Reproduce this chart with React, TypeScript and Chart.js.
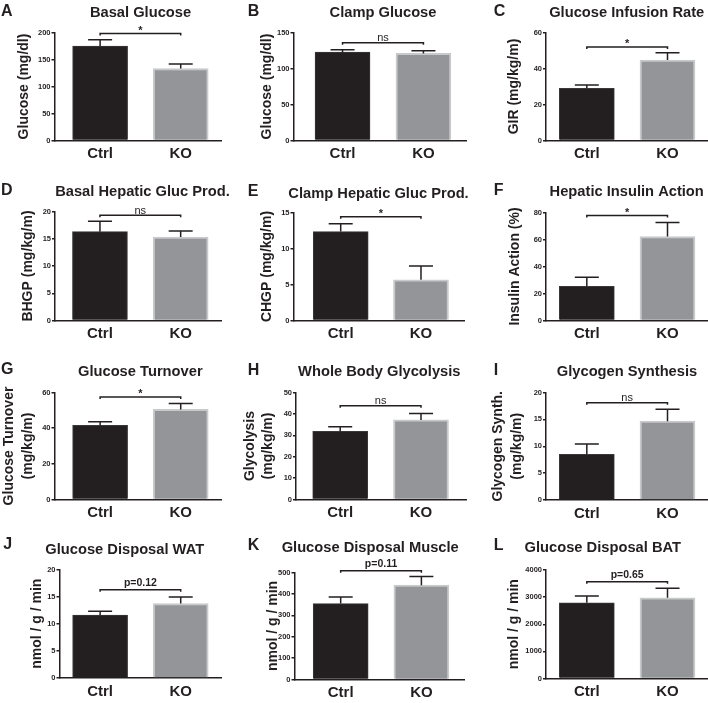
import React, { useEffect, useRef } from 'react';
import { Chart, registerables } from 'chart.js';

Chart.register(...registerables);

// ---------------- data ----------------
const CATEGORIES = ['Ctrl', 'KO'];
const LETTERS = ['A', 'B', 'C', 'D', 'E', 'F', 'G', 'H', 'I', 'J', 'K', 'L'];
const TITLES = [
  'Basal Glucose',
  'Clamp Glucose',
  'Glucose Infusion Rate',
  'Basal Hepatic Gluc Prod.',
  'Clamp Hepatic Gluc Prod.',
  'Hepatic Insulin Action',
  'Glucose Turnover',
  'Whole Body Glycolysis',
  'Glycogen Synthesis',
  'Glucose Disposal WAT',
  'Glucose Disposal Muscle',
  'Glucose Disposal BAT',
];
const Y_TITLES: (string | string[])[] = [
  'Glucose (mg/dl)',
  'Glucose (mg/dl)',
  'GIR (mg/kg/m)',
  'BHGP (mg/kg/m)',
  'CHGP (mg/kg/m)',
  'Insulin Action (%)',
  ['Glucose Turnover', '(mg/kg/m)'],
  ['Glycolysis', '(mg/kg/m)'],
  ['Glycogen Synth.', '(mg/kg/m)'],
  'nmol / g / min',
  'nmol / g / min',
  'nmol / g / min',
];
const CTRL_MEAN = [175, 122.7, 29.0, 16.3, 12.35, 25.3, 41.6, 31.8, 8.5, 11.6, 354.6, 2792];
const CTRL_SEM = [11.6, 3.2, 1.8, 1.9, 1.1, 6.7, 2.0, 2.2, 1.9, 0.7, 31.4, 248];
const KO_MEAN = [133.4, 120.9, 44.7, 15.3, 5.66, 62.2, 50.5, 37.2, 14.67, 13.74, 440.9, 2977];
const KO_SEM = [8.4, 3.6, 4.0, 1.1, 1.9, 10.4, 3.4, 3.0, 2.2, 1.2, 40.3, 347];
const Y_MAX = [200, 150, 60, 20, 15, 80, 60, 50, 20, 20, 500, 4000];
const Y_STEP = [50, 50, 20, 5, 5, 20, 20, 10, 5, 5, 100, 1000];
const SIG_LABELS = ['*', 'ns', '*', 'ns', '*', '*', '*', 'ns', 'ns', 'p=0.12', 'p=0.11', 'p=0.65'];
const SIG_Y = [198, 135.6, 52, 19.3, 14.4, 77.8, 57.5, 43.8, 18.1, 16.25, 508, 3571];

// ---------------- layout / style ----------------
const INK = '#231f20';
const CTRL_FILL = '#231f20';
const CTRL_BORDER = '#3a3839';
const KO_FILL = '#939598';
const KO_BORDER = '#c8c9cb';
const FAMILY = '"Liberation Sans", Arial, Helvetica, sans-serif';

const COL_X = [0, 236, 472];
const ROW_Y = [0, 175, 350, 525];
const ROW_H = [175, 175, 175, 178];
const PANEL_W = 236;

type Lay = {
  area: [number, number, number, number]; // left, right, top, bottom (canvas px)
  xr: [number, number];
  title: [number, number];
  letter: [number, number];
  yPad: number;
};

const LAYOUT: Lay[] = [
  { area: [54.5, 221.5, 32.5, 140.5], xr: [-0.566, 1.506], title: [140.5, 12.7], letter: [1, 11.7], yPad: 14.9 },
  { area: [57.5, 230, 32.5, 140.5], xr: [-0.606, 1.526], title: [147, 12.7], letter: [11.7, 11.7], yPad: 21.9 },
  { area: [74, 236, 32.5, 140.5], xr: [-0.506, 1.502], title: [154.7, 12.7], letter: [21.7, 11.7], yPad: 33.4 },
  { area: [55, 221.5, 36.5, 145.5], xr: [-0.557, 1.506], title: [142.5, 16.7], letter: [1, 15.3], yPad: 19.4 },
  { area: [57.5, 228.5, 37.5, 145.5], xr: [-0.588, 1.542], title: [142.5, 18.5], letter: [11.7, 16.7], yPad: 21.6 },
  { area: [74, 236, 37.5, 145.5], xr: [-0.506, 1.502], title: [154.7, 17.3], letter: [21.7, 15.7], yPad: 33.9 },
  { area: [54.5, 221.5, 42.5, 149.5], xr: [-0.566, 1.506], title: [140.3, 21.7], letter: [1, 20], yPad: 0.4 },
  { area: [60, 230, 42.5, 149.5], xr: [-0.547, 1.557], title: [143.3, 21.7], letter: [11.7, 21], yPad: 4.9 },
  { area: [74, 236, 42.5, 150], xr: [-0.506, 1.502], title: [155, 21.7], letter: [21.7, 20.5], yPad: 17.4 },
  { area: [59.5, 221.5, 44.5, 153], xr: [-0.504, 1.506], title: [124.7, 25], letter: [3.3, 19.7], yPad: 28.2 },
  { area: [58.5, 228.5, 47.5, 154.5], xr: [-0.572, 1.534], title: [134.2, 23.3], letter: [11.7, 20.8], yPad: 28.2 },
  { area: [74, 236, 45, 153.5], xr: [-0.506, 1.502], title: [130.8, 23.3], letter: [21.7, 20.8], yPad: 33.2 },
];

function Panel({ i }: { i: number }) {
  const ref = useRef<HTMLCanvasElement>(null);
  const col = i % 3;
  const row = Math.floor(i / 3);
  const W = PANEL_W;
  const H = ROW_H[row];

  useEffect(() => {
    const lay = LAYOUT[i];
    const [L, R, T, B] = lay.area;
    const means = [CTRL_MEAN[i], KO_MEAN[i]];
    const sems = [CTRL_SEM[i], KO_SEM[i]];

    const annot = {
      id: 'annot' + i,
      afterDraw(chart: any) {
        const { ctx } = chart;
        const x = chart.scales.x;
        const y = chart.scales.y;
        ctx.save();
        // error bars (mean + SEM)
        ctx.strokeStyle = INK;
        ctx.lineWidth = 1.5;
        const cap = 24;
        for (let k = 0; k < 2; k++) {
          const px = x.getPixelForValue(k);
          const y0 = y.getPixelForValue(means[k]);
          const y1 = y.getPixelForValue(means[k] + sems[k]);
          ctx.beginPath();
          ctx.moveTo(px, y0);
          ctx.lineTo(px, y1);
          ctx.moveTo(px - cap / 2, y1);
          ctx.lineTo(px + cap / 2, y1);
          ctx.stroke();
        }
        // significance bracket
        const by = y.getPixelForValue(SIG_Y[i]);
        const bx0 = x.getPixelForValue(0);
        const bx1 = x.getPixelForValue(1);
        ctx.beginPath();
        ctx.moveTo(bx0, by + 2);
        ctx.lineTo(bx0, by);
        ctx.lineTo(bx1, by);
        ctx.lineTo(bx1, by + 2);
        ctx.stroke();
        const lab = SIG_LABELS[i];
        ctx.fillStyle = INK;
        ctx.textAlign = 'center';
        ctx.textBaseline = 'alphabetic';
        if (lab === '*') {
          ctx.font = `bold 11px ${FAMILY}`;
          ctx.fillText(lab, (bx0 + bx1) / 2, by + 0.5);
        } else if (lab === 'ns') {
          ctx.font = `11px ${FAMILY}`;
          ctx.fillText(lab, (bx0 + bx1) / 2, by - 1.5);
        } else {
          ctx.font = `bold 10.5px ${FAMILY}`;
          ctx.fillText(lab, (bx0 + bx1) / 2, by - 3.5);
        }
        // title
        ctx.textBaseline = 'middle';
        ctx.font = `bold 14.7px ${FAMILY}`;
        ctx.fillText(TITLES[i], lay.title[0], lay.title[1]);
        // panel letter
        ctx.textAlign = 'left';
        ctx.font = `bold 16px ${FAMILY}`;
        ctx.fillText(LETTERS[i], lay.letter[0], lay.letter[1]);
        ctx.restore();
      },
    };

    const chart = new Chart(ref.current as HTMLCanvasElement, {
      type: 'bar',
      data: {
        datasets: [
          {
            data: [
              { x: 0, y: CTRL_MEAN[i] },
              { x: 1, y: KO_MEAN[i] },
            ],
            backgroundColor: [CTRL_FILL, KO_FILL],
            borderColor: [CTRL_BORDER, KO_BORDER],
            borderWidth: [1, 2] as any,
            barThickness: 55,
          } as any,
        ],
      },
      options: {
        animation: false,
        responsive: false,
        events: [],
        layout: { padding: { left: 0, top: T, right: W - R, bottom: 0 } },
        plugins: { legend: { display: false }, tooltip: { enabled: false }, title: { display: false } },
        scales: {
          x: {
            type: 'linear',
            offset: false,
            min: lay.xr[0],
            max: lay.xr[1],
            afterBuildTicks: (s: any) => {
              s.ticks = [{ value: 0 }, { value: 1 }];
            },
            afterFit: (s: any) => {
              s.height = H - B;
            },
            ticks: {
              autoSkip: false,
              maxRotation: 0,
              padding: 4.5,
              color: INK,
              font: { family: FAMILY, size: 15, weight: 'bold' },
              callback: (v: any) => CATEGORIES[Math.round(Number(v))],
            },
            grid: { display: false, drawTicks: false, offset: false },
            border: { display: true, color: INK, width: 1.5 },
          } as any,
          y: {
            min: 0,
            max: Y_MAX[i],
            afterFit: (s: any) => {
              s.width = L;
            },
            ticks: {
              stepSize: Y_STEP[i],
              autoSkip: false,
              padding: 1,
              color: INK,
              font: { family: FAMILY, size: 7.5, weight: 'bold' },
              callback: (v: any) => String(v),
            },
            grid: { drawOnChartArea: false, drawTicks: true, tickLength: 3, color: INK, lineWidth: 1.5 },
            border: { display: true, color: INK, width: 1.5 },
            title: {
              display: true,
              text: Y_TITLES[i] as any,
              color: INK,
              font: { family: FAMILY, size: 14, weight: 'bold', lineHeight: 1.3 },
              padding: { top: lay.yPad, bottom: 0 },
            },
          } as any,
        },
      },
      plugins: [annot],
    });
    return () => chart.destroy();
  }, [i, H, W]);

  return (
    <canvas
      ref={ref}
      width={W}
      height={H}
      style={{ position: 'absolute', left: COL_X[col], top: ROW_Y[row], width: W, height: H, display: 'block' }}
    />
  );
}

export default function App() {
  useEffect(() => {
    document.body.style.margin = '0';
    document.body.style.background = '#ffffff';
  }, []);
  return (
    <div style={{ position: 'relative', width: 708, height: 703, background: '#ffffff', overflow: 'hidden' }}>
      {LETTERS.map((_, i) => (
        <Panel key={i} i={i} />
      ))}
    </div>
  );
}
